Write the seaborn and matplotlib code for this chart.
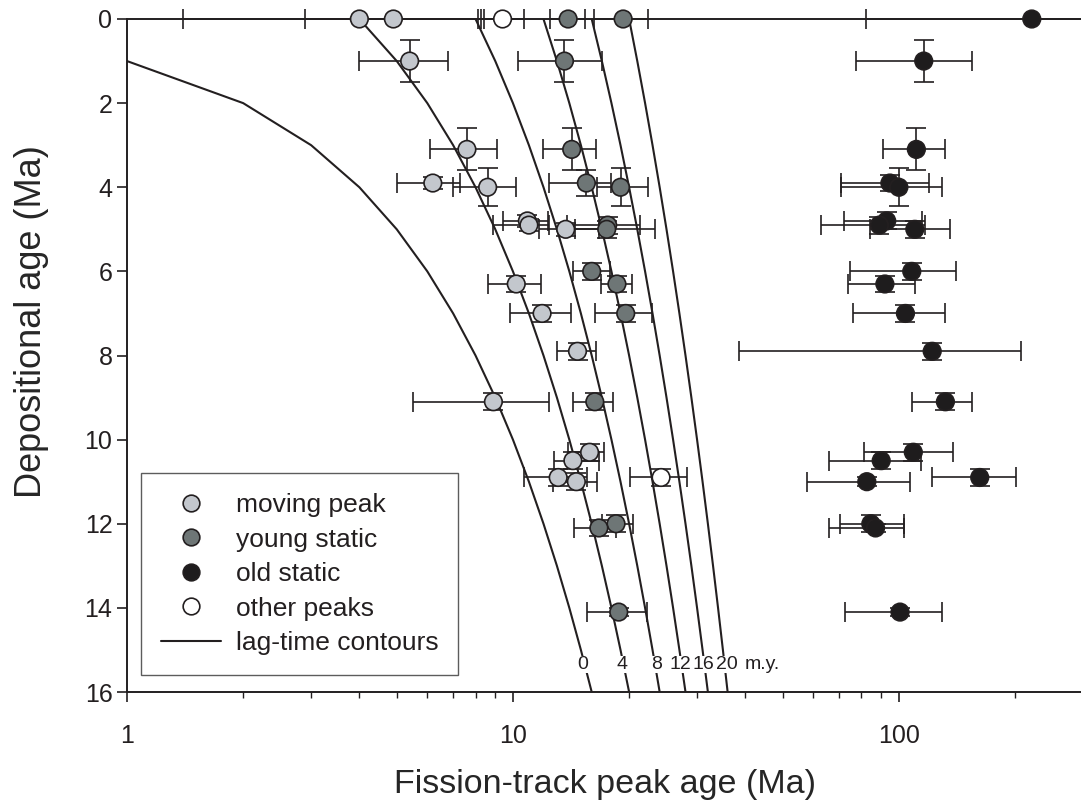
import matplotlib
matplotlib.use("Agg")
import matplotlib.pyplot as plt
import seaborn as sns
import pandas as pd
import numpy as np
from matplotlib.lines import Line2D

# moving peak (light grey)
mov_x = [4.0, 4.9, 5.4, 7.6, 6.2, 8.6, 10.9, 11.0, 13.7, 10.2, 11.9, 14.7, 8.9, 15.8, 14.3, 13.1, 14.6]
mov_y = [0, 0, 1.0, 3.1, 3.9, 4.0, 4.8, 4.9, 5.0, 6.3, 7.0, 7.9, 9.1, 10.3, 10.5, 10.9, 11.0]
mov_lo = [1.4, 2.9, 4.0, 6.1, 5.0, 7.0, 9.4, 8.9, 11.7, 8.6, 9.8, 13.0, 5.5, 13.9, 12.8, 10.7, 12.7]
mov_hi = [8.1, 8.4, 6.8, 9.1, 7.3, 10.2, 12.3, 12.4, 16.7, 11.8, 14.1, 16.4, 12.4, 17.2, 16.7, 15.6, 16.5]
mov_yerr = [0, 0, 0.5, 0.5, 0.15, 0.45, 0.15, 0.15, 0.15, 0.2, 0.2, 0.2, 0.2, 0.2, 0.2, 0.2, 0.2]

# young static (dark grey)
yng_x = [13.9, 19.3, 13.6, 14.2, 15.5, 19.0, 17.6, 17.5, 16.0, 18.6, 19.6, 16.3, 18.5, 16.7, 18.8]
yng_y = [0, 0, 1.0, 3.1, 3.9, 4.0, 4.9, 5.0, 6.0, 6.3, 7.0, 9.1, 12.0, 12.1, 14.1]
yng_lo = [12.5, 16.2, 10.3, 12.0, 12.4, 16.5, 13.8, 14.5, 14.3, 16.9, 16.3, 14.3, 17.0, 14.4, 15.6]
yng_hi = [15.4, 22.4, 17.0, 16.4, 18.0, 22.4, 21.3, 23.3, 17.8, 20.3, 22.9, 18.2, 20.5, 18.5, 22.2]
yng_yerr = [0, 0, 0.5, 0.5, 0.3, 0.45, 0.2, 0.2, 0.2, 0.2, 0.2, 0.2, 0.2, 0.2, 0.1]

# old static (black)
old_x = [221, 116, 111, 94.8, 100, 93, 89, 110, 108, 92, 104, 122, 132, 109, 90, 82.6, 162, 84.6, 87, 100.7]
old_y = [0, 1.0, 3.1, 3.9, 4.0, 4.8, 4.9, 5.0, 6.0, 6.3, 7.0, 7.9, 9.1, 10.3, 10.5, 11.0, 10.9, 12.0, 12.1, 14.1]
old_lo = [82, 77.4, 90.9, 70.8, 70.8, 72, 62.8, 84, 74.6, 74, 76, 38.5, 108, 81, 66, 57.8, 122, 70.3, 66, 72.5]
old_hi = [600, 154.6, 132, 119.6, 129, 115, 117, 135.6, 141, 110, 132, 207, 155, 138, 114, 107, 201, 103, 103, 129]
old_yerr = [0, 0.5, 0.5, 0.2, 0.45, 0.2, 0.2, 0.2, 0.2, 0.2, 0.2, 0.2, 0.2, 0.2, 0.2, 0.1, 0.2, 0.2, 0.1, 0.1]

# other peaks (white)
oth_x = [9.4, 24.2]
oth_y = [0, 10.9]
oth_lo = [8.25, 20.1]
oth_hi = [10.7, 28.2]
oth_yerr = [0, 0.2]

# lag-time contours
lags = [0, 4, 8, 12, 16, 20]
dep_ages = list(range(0, 17))

groups = ["moving peak", "young static", "old static", "other peaks"]
colors = {"moving peak": "#c3c7cd", "young static": "#6e7676",
          "old static": "#1e1c1d", "other peaks": "#ffffff"}
edge = "#231f20"

frames = []
for g, xs, ys, lo, hi, ye in [
        ("moving peak", mov_x, mov_y, mov_lo, mov_hi, mov_yerr),
        ("young static", yng_x, yng_y, yng_lo, yng_hi, yng_yerr),
        ("old static", old_x, old_y, old_lo, old_hi, old_yerr),
        ("other peaks", oth_x, oth_y, oth_lo, oth_hi, oth_yerr)]:
    frames.append(pd.DataFrame({"group": g, "peak": xs, "dep": ys,
                                "lo": lo, "hi": hi, "yerr": ye}))
df = pd.concat(frames, ignore_index=True)

rows = []
for lag in lags:
    for d in dep_ages:
        if d + lag > 0:
            rows.append({"lag": lag, "dep": d, "peak": d + lag})
contours = pd.DataFrame(rows)

sns.set_theme(style="ticks")
plt.rcParams["font.family"] = ["Liberation Sans", "DejaVu Sans"]
plt.rcParams["text.color"] = "#231f20"

fig = plt.figure(figsize=(10.81, 8.10), dpi=100)
ax = fig.add_axes([127 / 1081, 1 - 692 / 810, (1083 - 127) / 1081, (692 - 19) / 810])
ax.set_xscale("log")

sns.lineplot(data=contours, x="peak", y="dep", units="lag", estimator=None,
             sort=False, color=edge, linewidth=1.5, ax=ax, zorder=1)

eb = ax.errorbar(df["peak"], df["dep"],
                 xerr=[df["peak"] - df["lo"], df["hi"] - df["peak"]],
                 yerr=df["yerr"], fmt="none", ecolor=edge, elinewidth=1.2,
                 capsize=7, capthick=1.2, zorder=2)
for c in eb.lines[1]:
    c.set_clip_on(False)
for c in eb.lines[2]:
    c.set_clip_on(False)

sns.scatterplot(data=df, x="peak", y="dep", hue="group", hue_order=groups,
                palette=colors, s=160, edgecolor=edge, linewidth=1.2,
                legend=False, ax=ax, zorder=3, clip_on=False)

# contour labels, placed on each curve near the bottom
label_x = [15.2, 19.2, 23.6, 27.1, 31.2, 35.9]
for lag, lx in zip(lags, label_x):
    ax.text(lx, 15.35, str(lag), ha="center", va="center", fontsize=14,
            bbox=dict(facecolor="white", edgecolor="none", pad=0.1), zorder=2)
ax.text(39.9, 15.35, "m.y.", ha="left", va="center", fontsize=14, zorder=2)

ax.set_xlim(1, 300)
ax.set_ylim(16, 0)
ax.set_yticks(range(0, 17, 2))
ax.set_xticks([1, 10, 100])
ax.set_xticklabels(["1", "10", "100"])
ax.set_xlabel("Fission-track peak age (Ma)", fontsize=24.5, labelpad=15)
ax.set_ylabel("Depositional age (Ma)", fontsize=26)
ax.yaxis.set_label_coords(-0.082, 0.55)

sns.despine(ax=ax, top=False, right=True)
for s in ["left", "bottom", "top"]:
    ax.spines[s].set_color(edge)
    ax.spines[s].set_linewidth(1.4)
ax.tick_params(axis="both", which="major", direction="out", length=7, width=1.2,
               colors=edge, labelsize=18)
ax.tick_params(axis="x", which="major", pad=16)
ax.tick_params(axis="x", which="minor", direction="out", length=4, width=1.0, colors=edge)
ax.tick_params(axis="y", which="minor", left=False)
ax.tick_params(axis="x", which="both", top=False)

handles = [Line2D([], [], marker="o", ls="none", ms=12, mfc=colors[g], mec=edge, mew=1.2)
           for g in groups]
handles.append(Line2D([], [], color=edge, lw=1.5))
leg = ax.legend(handles, groups + ["lag-time contours"], loc="lower left",
                bbox_to_anchor=(0.0146, 0.0253), borderaxespad=0, fontsize=19,
                frameon=True, fancybox=False, handlelength=2.3, handletextpad=0.55,
                borderpad=0.75, labelspacing=0.4)
leg.get_frame().set_edgecolor("#333333")
leg.get_frame().set_linewidth(1.0)

fig.savefig("out.png", dpi=100)
